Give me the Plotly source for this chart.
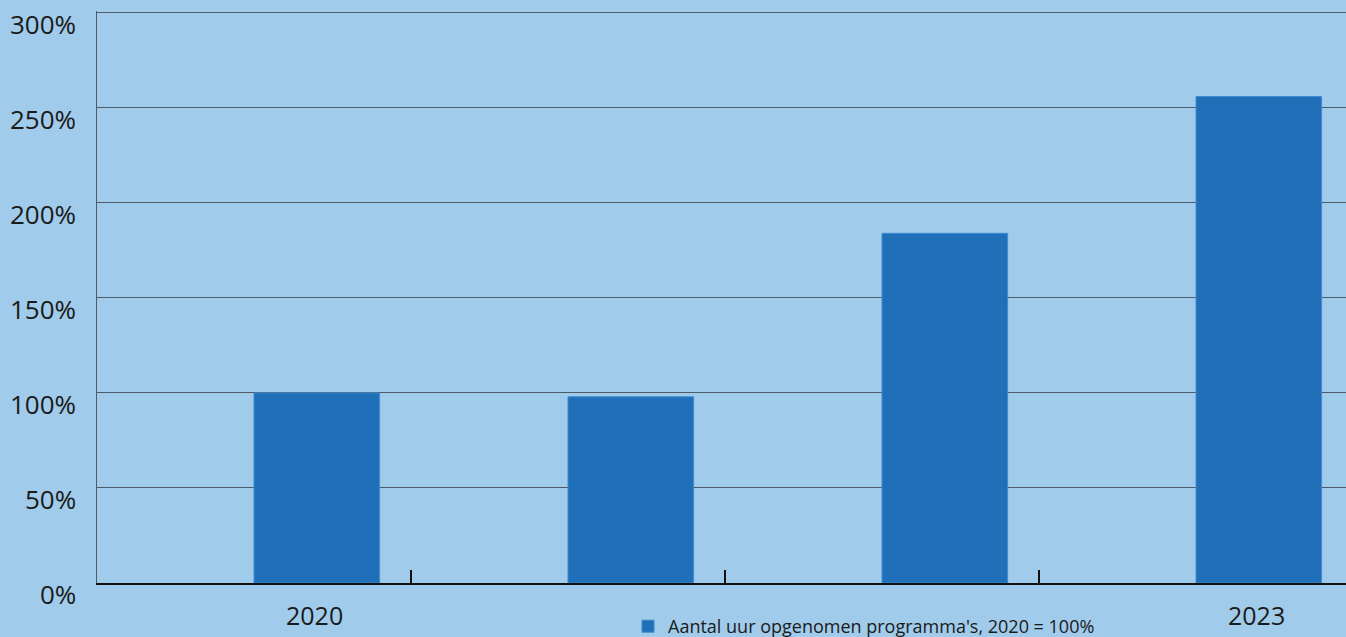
import plotly.graph_objects as go

years = ["2020", "2021", "2022", "2023"]
values = [100, 98, 184, 256]
shown_labels = ["2020", "2023"]
series_name = "Aantal uur opgenomen programma's, 2020 = 100%"
y_ticks = [0, 50, 100, 150, 200, 250, 300]
y_ticktext = [f"{v}%" for v in y_ticks]

BG = "#a0cbea"
BAR = "#1f70b8"
FONT = "Open Sans"
TXT = "#1a1a1a"

fig = go.Figure()
fig.add_trace(go.Bar(
    x=years, y=values, name=series_name,
    offset=0, width=0.4,
    marker=dict(color=BAR, line=dict(color="#3f8bcf", width=1)),
    showlegend=True,
))

W, H = 1346, 645
L, T, B = 97, 11, 55
plot_w = W - L
plot_h = H - T - B
slot = 314
fig.update_layout(
    width=W, height=H,
    paper_bgcolor=BG, plot_bgcolor=BG,
    margin=dict(l=L, r=0, t=T, b=B, pad=0),
    font=dict(family=FONT, color=TXT, size=24),
    showlegend=True,
    legend=dict(
        orientation="h", x=(628 - L) / plot_w, xanchor="left",
        y=-44.5 / plot_h, yanchor="middle",
        font=dict(size=18, family=FONT, color=TXT),
        bgcolor="rgba(0,0,0,0)",
    ),
    xaxis=dict(
        type="category", range=[-0.5, -0.5 + plot_w / slot],
        showticklabels=False, showgrid=False, zeroline=False,
        tickson="boundaries", ticks="inside", ticklen=13, tickwidth=2, tickcolor="#111",
        showline=True, linecolor="#111", linewidth=2,
    ),
    yaxis=dict(
        range=[0, 301], tickvals=y_ticks,
        showgrid=True, gridcolor="#4f5b66", gridwidth=1,
        zeroline=False, showline=True, linecolor="#4f5b66", linewidth=1,
        ticks="", showticklabels=False,
    ),
)

for v, t in zip(y_ticks, y_ticktext):
    fig.add_annotation(
        x=0, xref="paper", xanchor="right", xshift=-19,
        y=v, yref="y", yanchor="middle", yshift=-11,
        text=t, showarrow=False,
        font=dict(size=26, family=FONT, color=TXT),
    )

for yr in shown_labels:
    fig.add_annotation(
        x=years.index(yr), xref="x", xshift=0.2 * slot - 2,
        y=-32.5 / plot_h, yref="paper",
        yanchor="middle", text=yr, showarrow=False,
        font=dict(size=25, family=FONT, color=TXT),
    )

fig.write_html(
    "out.html",
    config={"displayModeBar": False},
    post_script=(
        "document.documentElement.style.margin='0';"
        "document.body.style.margin='0';"
        "document.body.style.background='" + BG + "';"
        "document.documentElement.style.background='" + BG + "';"
    ),
)
